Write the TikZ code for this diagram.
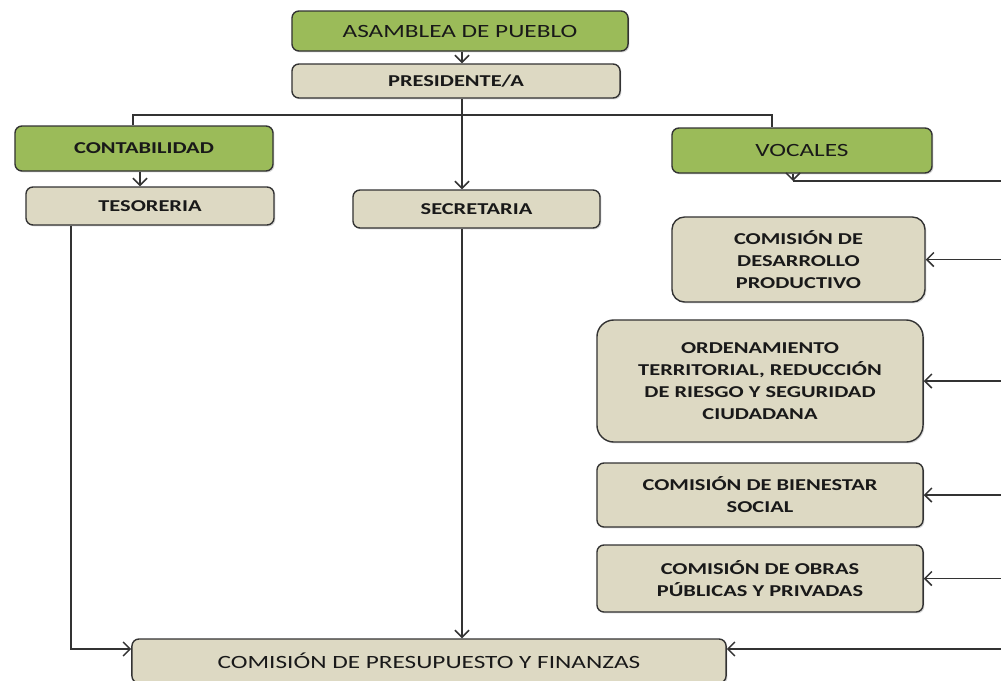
\documentclass[tikz,border=0pt]{standalone}
\usepackage{fontspec}
\setmainfont{Carlito}[FakeStretch=1.35]
\usetikzlibrary{arrows.meta,shadows}
\definecolor{verde}{HTML}{9BBB59}
\definecolor{beige}{HTML}{DDD9C3}
\definecolor{borde}{HTML}{333333}
\begin{document}
\begin{tikzpicture}[x=0.025cm,y=-0.025cm,>={Straight Barb[length=5pt,width=10pt]}]
    \tikzstyle{caja}=[draw=borde, line width=1pt, rounded corners=5pt, align=center, text=black!90, inner sep=2pt,
      drop shadow={shadow xshift=1pt, shadow yshift=-1pt, opacity=0.3}]
    \tikzstyle{jefe}=[caja, fill=verde, font=\fontsize{13.3}{16}\selectfont]
    \tikzstyle{cargo}=[caja, fill=beige, font=\bfseries\fontsize{11.8}{15.6}\selectfont]
    \tikzstyle{linea}=[draw=borde, line width=1.1pt]

    \useasboundingbox (0,0) rectangle (1001,680);

    \node[jefe, minimum width=8.4cm, minimum height=1cm] (asamblea) at (460,31) {ASAMBLEA DE PUEBLO};
    \node[cargo, minimum width=8.2cm, minimum height=0.85cm] (presidente) at (456,81) {PRESIDENTE/A};
    \node[jefe, font=\bfseries\fontsize{11.8}{15.6}\selectfont, minimum width=6.45cm, minimum height=1.125cm] (contabilidad) at (144,148.5) {CONTABILIDAD};
    \node[cargo, minimum width=6.2cm, minimum height=0.95cm] (tesoreria) at (150,206) {TESORERIA};
    \node[cargo, minimum width=6.175cm, minimum height=0.95cm] (secretaria) at (476.5,209) {SECRETARIA};
    \node[jefe, minimum width=6.5cm, minimum height=1.125cm] (vocales) at (802,150.5) {VOCALES};
    \node[cargo, rounded corners=9pt, minimum width=6.325cm, minimum height=2.125cm] (desarrollo) at (798.5,259.5) {COMISIÓN DE\\DESARROLLO\\PRODUCTIVO};
    \node[cargo, rounded corners=12pt, minimum width=8.15cm, minimum height=3.05cm] (ordenamiento) at (760,381) {ORDENAMIENTO\\TERRITORIAL, REDUCCIÓN\\DE RIESGO Y SEGURIDAD\\CIUDADANA};
    \node[cargo, minimum width=8.15cm, minimum height=1.6cm] (bienestar) at (760,495) {COMISIÓN DE BIENESTAR\\SOCIAL};
    \node[cargo, minimum width=8.15cm, minimum height=1.675cm] (obras) at (760,578.5) {COMISIÓN DE OBRAS\\PÚBLICAS Y PRIVADAS};
    \node[cargo, font=\fontsize{13.3}{16}\selectfont, minimum width=14.85cm, minimum height=1.1cm] (presupuesto) at (429,661) {COMISIÓN DE PRESUPUESTO Y FINANZAS};

    % ejes de las lineas
    \coordinate (eje) at (462,0);
    \coordinate (ramaI) at (133,115);
    \coordinate (ramaD) at (772,115);
    \coordinate (conta) at (140,0);
    \coordinate (teso) at (71,0);
    \coordinate (pie) at (0,649);
    \coordinate (vpie) at (793,181);
    \coordinate (margen) at (1001,0);

    \draw[linea, ->] (asamblea.south -| eje) -- (presidente.north -| eje);
    \draw[linea, ->] (presidente.south -| eje) -- (secretaria.north -| eje);
    \draw[linea, ->] (secretaria.south -| eje) -- (presupuesto.north -| eje);
    \draw[linea] (contabilidad.north -| ramaI) -- (ramaI) -- (ramaD) -- (vocales.north -| ramaD);
    \draw[linea, ->] (contabilidad.south -| conta) -- (tesoreria.north -| conta);
    \draw[linea, ->] (tesoreria.south -| teso) |- (presupuesto.west |- pie);

    \draw[linea, ->] (vocales.south -| vpie) -- (vpie);
    \draw[linea] (vpie) -- (vpie -| margen);
    \draw[linea, ->] (desarrollo.east -| margen) -- (desarrollo.east);
    \draw[linea, ->] (ordenamiento.east -| margen) -- (ordenamiento.east);
    \draw[linea, ->] (bienestar.east -| margen) -- (bienestar.east);
    \draw[linea, ->] (obras.east -| margen) -- (obras.east);
    \draw[linea, ->] (presupuesto.east |- pie -| margen) -- (presupuesto.east |- pie);
\end{tikzpicture}
\end{document}
